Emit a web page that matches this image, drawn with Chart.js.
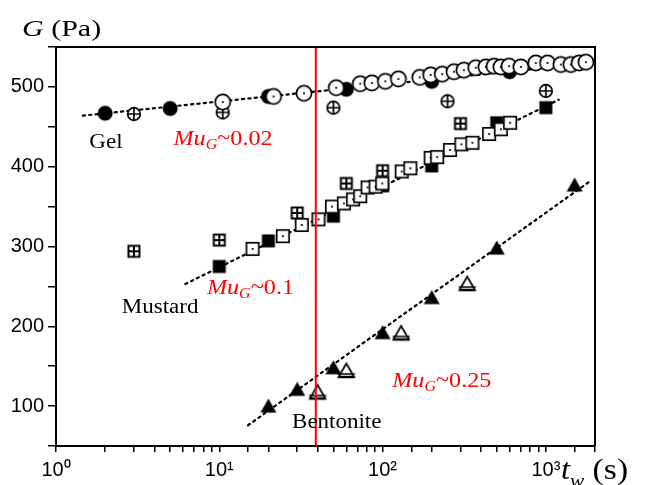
<!DOCTYPE html>
<html>
<head>
<meta charset="utf-8">
<script src="https://cdn.jsdelivr.net/npm/chart.js@4/dist/chart.umd.min.js"></script>
<style>
  html, body { margin: 0; padding: 0; background: #fff; }
  #wrap { width: 647px; height: 485px; }
</style>
</head>
<body>
<div id="wrap"><canvas id="c" width="647" height="485"></canvas></div>
<script>
// Storage modulus G (Pa) against waiting time t_w (s)

// Gel
const gelFilledT = [2, 5, 20, 60, 200, 600];
const gelFilledG = [467, 473, 488, 497, 507, 519];
const gelOpenT = [10.5, 21.5, 33, 52, 73, 86, 104, 125, 169, 197, 232, 274, 315, 372, 429, 482, 530, 595, 703, 868, 1024, 1236, 1422, 1600, 1760];
const gelOpenG = [481, 488, 492, 499, 504, 505, 507, 510, 512, 515, 516, 519, 521, 524, 525, 526, 525, 526, 525, 530, 530, 528, 528, 530, 531];
const gelCrossT = [3, 10.5, 50, 250, 1000];
const gelCrossG = [466, 468, 474, 482, 495];
const gelFitT = [1.46, 1000];
const gelFitG = [464, 524];

// Mustard
const musFilledT = [10, 20, 50, 100, 200, 500, 1000];
const musFilledG = [275, 307, 338, 376, 401, 455, 474];
const musOpenT = [16, 24.5, 32, 40.5, 49, 58, 66, 73, 81, 90.6, 99.5, 131, 148, 197, 216, 259, 304, 355, 449, 530, 604];
const musOpenG = [297, 313, 327, 334, 350, 354, 359, 363, 374, 375, 379, 394, 398, 411, 412, 421, 428, 430, 441, 447, 455];
const musCrossT = [3, 10, 30, 60, 100, 300];
const musCrossG = [294, 308, 342, 379, 395, 454];
const musFitT = [6.2, 1200];
const musFitG = [253, 484];

// Bentonite
const benFilledT = [20, 30, 50, 100, 200, 500, 1500];
const benFilledG = [100, 121, 148, 192, 236, 298, 377];
const benOpenT = [40, 60, 130, 330];
const benOpenG = [117, 144, 191, 253];
const benFitT = [15, 1900];
const benFitG = [76, 383];

// Reference waiting time marked in red
const markerT = [39, 39];
const markerG = [50, 550];

// Axis ticks
const xLabelPowers = ['10\u2070', '10\u00b9', '10\u00b2', '10\u00b3'];
const yLabelValues = [100, 200, 300, 400, 500];

const pts = (xs, ys) => xs.map((x, i) => ({ x, y: ys[i] }));

// Marker glyphs drawn once on small canvases
function marker(kind) {
  const s = 22, c = document.createElement('canvas');
  c.width = s; c.height = s;
  const g = c.getContext('2d');
  g.translate(s / 2, s / 2);
  g.strokeStyle = '#000'; g.fillStyle = '#000'; g.lineWidth = 1.7;
  const dot = () => { g.beginPath(); g.arc(0, 0, 1.1, 0, Math.PI * 2); g.fill(); };
  if (kind === 'circleFilled') {
    g.beginPath(); g.arc(0, 0, 7.5, 0, Math.PI * 2); g.fill();
  } else if (kind === 'circleDot') {
    g.beginPath(); g.arc(0, 0, 7.6, 0, Math.PI * 2); g.fillStyle = '#fff'; g.fill(); g.stroke();
    g.fillStyle = '#000'; dot();
  } else if (kind === 'circleCross') {
    g.beginPath(); g.arc(0, 0, 6.3, 0, Math.PI * 2); g.fillStyle = '#fff'; g.fill(); g.stroke();
    g.beginPath(); g.moveTo(-6.3, 0); g.lineTo(6.3, 0); g.moveTo(0, -6.3); g.lineTo(0, 6.3); g.stroke();
  } else if (kind === 'squareFilled') {
    g.fillRect(-6.5, -6.5, 13, 13);
  } else if (kind === 'squareDot') {
    g.fillStyle = '#fff'; g.fillRect(-6.2, -6.2, 12.4, 12.4); g.strokeRect(-6.2, -6.2, 12.4, 12.4);
    g.fillStyle = '#000'; dot();
  } else if (kind === 'squareCross') {
    g.lineWidth = 2;
    g.fillStyle = '#fff'; g.fillRect(-5.5, -5.5, 11, 11); g.strokeRect(-5.5, -5.5, 11, 11);
    g.beginPath(); g.moveTo(-5.5, 0); g.lineTo(5.5, 0); g.moveTo(0, -5.5); g.lineTo(0, 5.5); g.stroke();
  } else if (kind === 'triFilled') {
    g.beginPath(); g.moveTo(0, -7.5); g.lineTo(8, 6.5); g.lineTo(-8, 6.5); g.closePath(); g.fill();
  } else if (kind === 'triOpen') {
    g.beginPath(); g.moveTo(0, -7.5); g.lineTo(7.5, 5.5); g.lineTo(-7.5, 5.5); g.closePath();
    g.fillStyle = '#fff'; g.fill(); g.stroke();
    g.beginPath(); g.moveTo(-8.5, 3); g.lineTo(8.5, 3); g.moveTo(-8.5, 6.5); g.lineTo(8.5, 6.5); g.stroke();
  }
  return c;
}

const M = {};
['circleFilled', 'circleDot', 'circleCross', 'squareFilled', 'squareDot', 'squareCross', 'triFilled', 'triOpen']
  .forEach(k => { M[k] = marker(k); });

const markSet = (data, kind, order) => ({
  data, order, showLine: false, pointStyle: M[kind], pointRadius: 8, pointHoverRadius: 8
});
const fitSet = (data) => ({
  data, order: 10, showLine: true, pointRadius: 0, borderColor: '#000', borderWidth: 2.2,
  borderDash: [2.2, 4.2], borderCapStyle: 'round', fill: false
});

// Frame on the top and right edges of the plot
const framePlugin = {
  id: 'frame',
  afterDraw(chart) {
    const { ctx, chartArea: a } = chart;
    ctx.save();
    ctx.strokeStyle = '#000'; ctx.lineWidth = 2;
    ctx.beginPath();
    ctx.moveTo(a.left, a.top); ctx.lineTo(a.right, a.top); ctx.lineTo(a.right, a.bottom);
    ctx.stroke();
    ctx.restore();
  }
};

// Text runs: [text, font, dy]
function drawRuns(ctx, runs, x, y, color, sx) {
  ctx.save();
  ctx.translate(x, y);
  ctx.scale(sx, 1);
  ctx.fillStyle = color;
  ctx.textBaseline = 'alphabetic';
  ctx.textAlign = 'left';
  let cx = 0;
  runs.forEach(([t, f, dy]) => {
    ctx.font = f;
    ctx.fillText(t, cx, dy || 0);
    cx += ctx.measureText(t).width;
  });
  ctx.restore();
}

const SERIF = '"Liberation Serif", "Times New Roman", serif';
const muLabel = (val) => [
  ['Mu', 'italic 21px ' + SERIF, 0],
  ['G', 'italic 14px ' + SERIF, 4],
  ['~', '21px ' + SERIF, -1],
  [val, '21px ' + SERIF, 0]
];

// Sample names and slope notes, anchored in data coordinates
const notes = [
  { t: 1.6, G: 424, runs: [['Gel', '20px ' + SERIF, 0]], color: '#000' },
  { t: 2.53, G: 217, runs: [['Mustard', '20px ' + SERIF, 0]], color: '#000' },
  { t: 27.9, G: 73, runs: [['Bentonite', '20px ' + SERIF, 0]], color: '#000' },
  { t: 5.24, G: 427, runs: muLabel('0.02'), color: '#ff0000' },
  { t: 8.4, G: 241, runs: muLabel('0.1'), color: '#ff0000' },
  { t: 114.6, G: 124, runs: muLabel('0.25'), color: '#ff0000' }
];

const textPlugin = {
  id: 'texts',
  afterDraw(chart) {
    const { ctx, scales: { x, y } } = chart;
    notes.forEach(n => drawRuns(ctx, n.runs, x.getPixelForValue(n.t), y.getPixelForValue(n.G), n.color, 1.15));
    // axis titles
    drawRuns(ctx, [['G', 'italic 24px ' + SERIF, 0], [' (Pa)', '24px ' + SERIF, 0]], 22, 36, '#000', 1.25);
    drawRuns(ctx, [['t', 'italic 29px ' + SERIF, 0], ['w', 'italic 19px ' + SERIF, 8], [' (s)', '30px ' + SERIF, 0]], 561, 479, '#000', 1.12);
  }
};

new Chart(document.getElementById('c'), {
  type: 'scatter',
  data: {
    datasets: [
      { data: pts(markerT, markerG), order: -1, showLine: true, pointRadius: 0, borderColor: '#ff0000', borderWidth: 2 },
      markSet(pts(gelOpenT, gelOpenG), 'circleDot', 1),
      markSet(pts(musOpenT, musOpenG), 'squareDot', 1),
      markSet(pts(benOpenT, benOpenG), 'triOpen', 1),
      markSet(pts(gelCrossT, gelCrossG), 'circleCross', 3),
      markSet(pts(musCrossT, musCrossG), 'squareCross', 3),
      markSet(pts(gelFilledT, gelFilledG), 'circleFilled', 5),
      markSet(pts(musFilledT, musFilledG), 'squareFilled', 5),
      markSet(pts(benFilledT, benFilledG), 'triFilled', 5),
      fitSet(pts(gelFitT, gelFitG)),
      fitSet(pts(musFitT, musFitG)),
      fitSet(pts(benFitT, benFitG))
    ]
  },
  options: {
    responsive: false,
    animation: false,
    events: [],
    layout: { padding: { top: 47, right: 52, left: 0, bottom: 0 } },
    plugins: { legend: { display: false }, tooltip: { enabled: false } },
    scales: {
      x: {
        type: 'logarithmic', min: 1, max: 2000,
        grid: { drawOnChartArea: false, drawTicks: true, tickLength: 6, color: '#000', lineWidth: 1.5 },
        border: { display: true, color: '#000', width: 2 },
        ticks: {
          autoSkip: false, maxRotation: 0, padding: 6, color: '#000',
          font: { family: '"Liberation Sans", Arial, sans-serif', size: 20 },
          callback: (v) => {
            const p = Math.log10(v);
            return Math.abs(p - Math.round(p)) < 1e-9 ? xLabelPowers[Math.round(p)] : '';
          }
        },
        afterFit: (s) => { s.height = 39; }
      },
      y: {
        type: 'linear', min: 50, max: 550,
        grid: { drawOnChartArea: false, drawTicks: true, tickLength: 8, color: '#000', lineWidth: 1.5 },
        border: { display: true, color: '#000', width: 2 },
        ticks: {
          stepSize: 50, padding: 4, color: '#000',
          font: { family: '"Liberation Sans", Arial, sans-serif', size: 20 },
          callback: (v) => yLabelValues.includes(v) ? String(v) : ''
        },
        afterFit: (s) => { s.width = 56; }
      }
    }
  },
  plugins: [framePlugin, textPlugin]
});
</script>
</body>
</html>
